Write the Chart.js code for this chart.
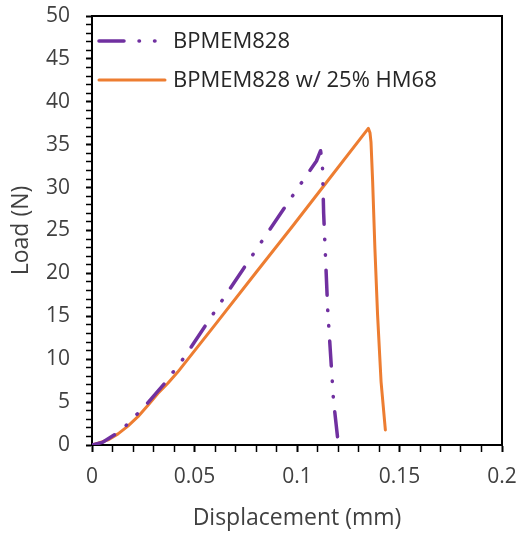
<!DOCTYPE html>
<html>
<head>
<meta charset="utf-8">
<script src="https://cdn.jsdelivr.net/npm/chart.js@4"></script>
<style>
  html, body { margin: 0; padding: 0; background: #fff; }
  #wrap { width: 519px; height: 533px; }
</style>
</head>
<body>
<div id="wrap"><canvas id="loadChart" width="519" height="533"></canvas></div>
<script>
// Series values
const seriesNames = ['BPMEM828', 'BPMEM828 w/ 25% HM68'];

const plainX = [0, 0.005, 0.011, 0.0167, 0.0224, 0.0272, 0.0362, 0.0405, 0.045, 0.05, 0.065, 0.0847, 0.1, 0.1095, 0.1115, 0.1124, 0.113, 0.115, 0.1178, 0.1202];
const plainY = [0, 0.3, 1.2, 2.3, 3.7, 4.9, 7.4, 8.8, 10.2, 12.0, 17.4, 24.4, 29.8, 33.1, 34.3, 32.7, 27.0, 15.7, 5.2, 0];

const blendX = [0, 0.0029, 0.0078, 0.0127, 0.0175, 0.0224, 0.0272, 0.0321, 0.037, 0.0418, 0.06, 0.08, 0.0978, 0.115, 0.1348, 0.1356, 0.1361, 0.1369, 0.138, 0.1393, 0.141, 0.1431];
const blendY = [0, 0.2, 0.6, 1.3, 2.2, 3.3, 4.6, 6.0, 7.2, 8.5, 14.0, 20.1, 25.5, 30.8, 36.9, 36.4, 35.3, 30.7, 22.9, 15.2, 7.4, 1.75];

const xTickLabels = ['0', '0.05', '0.1', '0.15', '0.2'];
const yTickLabels = ['0', '5', '10', '15', '20', '25', '30', '35', '40', '45', '50'];

const PURPLE = '#7030A0';
const ORANGE = '#ED7D31';
const FONT = "'Open Sans', sans-serif";
const DASH_DOT_DOT = [25, 15, 0.5, 15, 0.5, 15];

const toPoints = (xs, ys) => xs.map((x, i) => ({ x: x, y: ys[i] }));

// Box around the plot area + hand-made legend (line samples)
const frameAndLegend = {
    id: 'frameAndLegend',
    afterDatasetsDraw(chart) {
        const { ctx, chartArea: a } = chart;
        ctx.save();
        ctx.strokeStyle = '#000';
        ctx.lineWidth = 2;
        ctx.beginPath();
        ctx.moveTo(a.left, a.top);
        ctx.lineTo(a.right, a.top);
        ctx.lineTo(a.right, a.bottom);
        ctx.stroke();

        const rows = [
            { y: 41, color: PURPLE, dash: DASH_DOT_DOT, width: 3.5 },
            { y: 80, color: ORANGE, dash: [], width: 3 }
        ];
        rows.forEach((r, i) => {
            ctx.beginPath();
            ctx.strokeStyle = r.color;
            ctx.lineWidth = r.width;
            ctx.lineCap = 'round';
            ctx.setLineDash(r.dash);
            ctx.moveTo(99, r.y);
            ctx.lineTo(165, r.y);
            ctx.stroke();
            ctx.setLineDash([]);
            ctx.fillStyle = '#262626';
            ctx.font = '22px ' + FONT;
            ctx.textBaseline = 'middle';
            ctx.textAlign = 'left';
            ctx.fillText(seriesNames[i], 173, r.y + 1);
        });
        ctx.restore();
    }
};

new Chart(document.getElementById('loadChart'), {
    type: 'line',
    data: {
        datasets: [
            {
                label: seriesNames[0],
                data: toPoints(plainX, plainY),
                borderColor: PURPLE,
                borderWidth: 3.5,
                borderDash: DASH_DOT_DOT,
                borderCapStyle: 'round',
                borderJoinStyle: 'round',
                pointRadius: 0,
                tension: 0,
                fill: false
            },
            {
                label: seriesNames[1],
                data: toPoints(blendX, blendY),
                borderColor: ORANGE,
                borderWidth: 3,
                borderCapStyle: 'round',
                borderJoinStyle: 'round',
                pointRadius: 0,
                tension: 0,
                fill: false
            }
        ]
    },
    options: {
        responsive: false,
        animation: false,
        layout: { padding: { left: 0, top: 16, right: 17, bottom: 0 } },
        plugins: {
            legend: { display: false },
            tooltip: { enabled: false }
        },
        scales: {
            x: {
                type: 'linear',
                min: 0,
                max: 0.2,
                afterFit: s => {
                    s.height = 88;
                    s.paddingLeft = 0;
                    s.paddingRight = 0;
                },
                afterBuildTicks: s => {
                    s.ticks = [];
                    for (let i = 0; i <= 20; i++) s.ticks.push({ value: i / 100 });
                },
                border: { color: '#000', width: 2 },
                grid: {
                    drawOnChartArea: false,
                    drawTicks: true,
                    tickLength: 7,
                    color: '#000',
                    tickWidth: c => (Math.round(c.tick.value * 100) % 5 === 0 ? 2 : 1.5)
                },
                ticks: {
                    autoSkip: false,
                    maxRotation: 0,
                    padding: 12,
                    color: '#404040',
                    font: { family: FONT, size: 21 },
                    callback: v => {
                        const k = Math.round(v * 100);
                        return k % 5 === 0 ? xTickLabels[k / 5] : '';
                    }
                },
                title: {
                    display: true,
                    text: 'Displacement (mm)',
                    color: '#404040',
                    font: { family: FONT, size: 23 },
                    padding: { top: 0, bottom: 1 }
                }
            },
            y: {
                type: 'linear',
                min: 0,
                max: 50,
                afterFit: s => {
                    s.width = 92;
                    s.paddingTop = 0;
                    s.paddingBottom = 0;
                },
                afterBuildTicks: s => {
                    s.ticks = [];
                    for (let i = 0; i <= 50; i++) s.ticks.push({ value: i });
                },
                border: { color: '#000', width: 2 },
                grid: {
                    drawOnChartArea: false,
                    drawTicks: true,
                    tickLength: 6,
                    color: '#000',
                    tickWidth: c => (c.tick.value % 5 === 0 ? 2 : 1.5)
                },
                ticks: {
                    autoSkip: false,
                    padding: 16,
                    color: '#404040',
                    font: { family: FONT, size: 21 },
                    callback: v => (v % 5 === 0 ? yTickLabels[v / 5] : '')
                },
                title: {
                    display: true,
                    text: 'Load (N)',
                    color: '#404040',
                    font: { family: FONT, size: 23 },
                    padding: { top: 8, bottom: 0 }
                }
            }
        }
    },
    plugins: [frameAndLegend]
});
</script>
</body>
</html>
